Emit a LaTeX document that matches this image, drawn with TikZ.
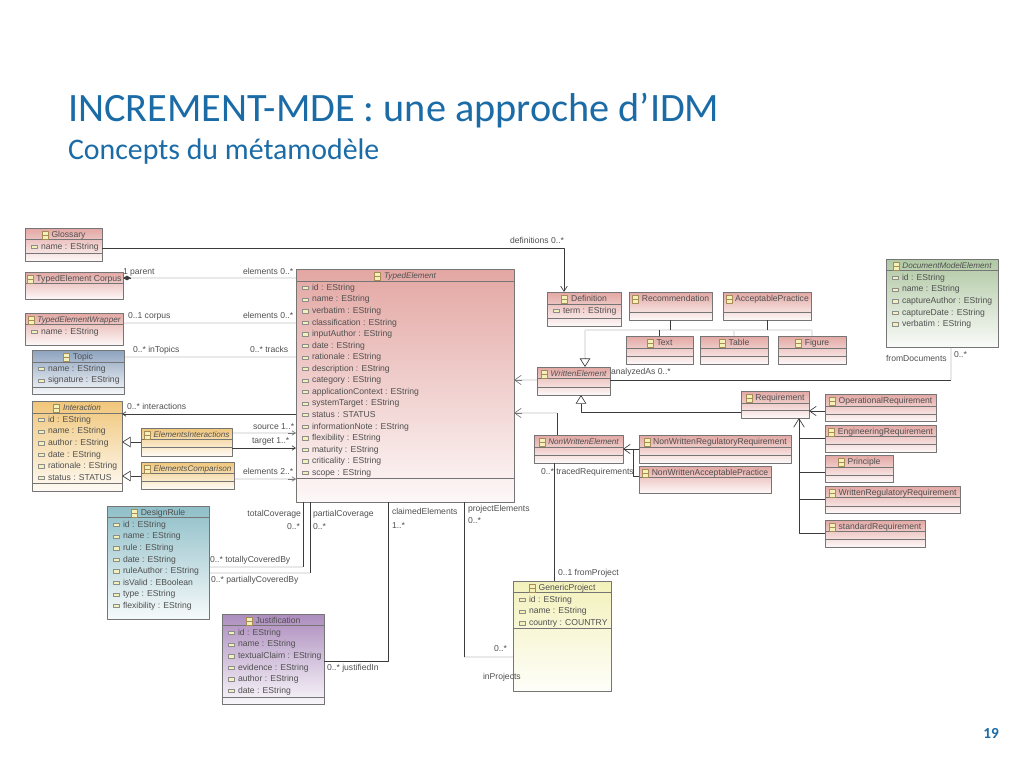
\documentclass[tikz,border=0pt]{standalone}
\usepackage{fontspec}
\setmainfont{Liberation Sans}
\newfontfamily\slidefont{Carlito}
\usetikzlibrary{arrows.meta,positioning,calc,fit,shadows}
\definecolor{ink}{HTML}{505050}
\definecolor{wire}{HTML}{3C3C3C}
\definecolor{pale}{HTML}{E9E9E9}
\definecolor{edge}{HTML}{757575}
\definecolor{slideblue}{HTML}{1B6BA6}
\definecolor{rosy}{HTML}{E3A7A3}
\definecolor{steel}{HTML}{8CA2BE}
\definecolor{amber}{HTML}{F0C679}
\definecolor{teal}{HTML}{8FBFC8}
\definecolor{plum}{HTML}{AD8DBE}
\definecolor{lemon}{HTML}{F3F1BA}
\definecolor{sage}{HTML}{B0C8A3}
\newcommand{\ittitle}{\fontsize{6.1}{8}\selectfont\itshape}

% box, dividers, title and its icon
\newcommand{\umlclass}[8]{%
  \node[clsbox, top color=#2, bottom color=#2!8, fit={(#3,#4) (#5,#6)}] (#1) {};
  \foreach \ydiv in {#7} {\draw[divline] (#1.west |- 0,\ydiv) -- (#1.east |- 0,\ydiv);}
  \node[clstitle] (#1-title) at ($(#1.north)+(5,6.8)$) {#8};
  \node[clsicon, left=2.5pt of #1-title] (#1-icon) {};
  \draw[iconline] (#1-icon.west) -- (#1-icon.east);
}
% attribute rows
\newcommand{\umlattrs}[2]{%
  \foreach \attrname [count=\n] in {#2} {
    \node[attrtext] (#1-a\n) at ($(#1.north west)+(16,7.45+11.55*\n)$) {\attrname};
    \node[attricon] (#1-i\n) at ($(#1.north west)+(9.5,7.45+11.55*\n)$) {};
  }
}

\begin{document}
\begin{tikzpicture}[
  x=0.75pt,
  y=-0.75pt,
  font=\fontsize{6.45}{8}\selectfont,
  line join=round,
  every node/.style={
    text=ink,
    inner sep=0pt,
    outer sep=0pt,
  },
  clsbox/.style={
    draw=edge,
    line width=0.5pt,
    drop shadow={shadow xshift=1pt,shadow yshift=-1pt,fill=black!20,opacity=1},
  },
  divline/.style={
    edge,
    line width=0.45pt,
  },
  clstitle/.style={
    text=ink,
    text height=5pt,
    text depth=1.4pt,
  },
  clsicon/.style={
    draw=amber!70!black,
    fill=lemon,
    line width=0.4pt,
    minimum width=4.5pt,
    minimum height=6pt,
  },
  iconline/.style={
    amber!70!black,
    line width=0.4pt,
  },
  attrtext/.style={
    anchor=west,
    text height=5pt,
    text depth=1.4pt,
  },
  attricon/.style={
    draw=black!45,
    fill=lemon,
    line width=0.3pt,
    minimum width=4.4pt,
    minimum height=2.4pt,
  },
  lbl/.style={
    anchor=west,
    text height=5pt,
    text depth=1.4pt,
  },
  wireline/.style={
    wire,
    line width=0.7pt,
  },
  paleline/.style={
    pale,
    line width=1pt,
  },
  opentip/.style={
    -{Straight Barb[length=5pt,width=7pt,line width=0.5pt]},
  },
  smalltip/.style={
    -{Straight Barb[length=2.6pt,width=3.4pt,line width=0.5pt]},
  },
  gentip/.style={
    -{Triangle[open,length=6.5pt,width=8pt,line width=0.5pt,fill=white]},
  },
]
\useasboundingbox (0,0) rectangle (1024,768);

% --- slide header ---
\node[anchor=west, text=slideblue, font=\slidefont\fontsize{30.2}{34}\selectfont] (slidetitle) at (68,111) {INCREMENT-MDE : une approche d’IDM};
\node[anchor=west, text=slideblue, font=\slidefont\fontsize{22.4}{26}\selectfont] (slidesub) at (68,152) {Concepts du métamodèle};
\node[anchor=east, text=slideblue, font=\slidefont\bfseries\fontsize{11.5}{14}\selectfont] (slidenum) at (999,733) {19};

% --- pale connectors, under the boxes ---
\draw[paleline] (123,278) -- (296,278);
\draw[paleline] (123,323) -- (296,323);
\draw[paleline] (124,357) -- (296,357);
\draw[paleline] (232,433) -- (296,433);
\draw[paleline] (234,479) -- (296,479);
\draw[paleline] (209,567) -- (303,567);
\draw[paleline] (209,573) -- (310,573);
\draw[paleline] (464,657) -- (513,657);
\draw[paleline] (514,380) -- (537,380);
\draw[paleline] (514,413) -- (557,413);
\draw[paleline] (951,347) -- (951,380);
\draw[paleline, line width=1.3pt] (585,330) -- (812,330);
\draw[paleline, line width=1.3pt] (585,330) -- (585,358);
\draw[paleline] (734,330) -- (734,336);
\draw[paleline] (812,330) -- (812,336);

% --- classes ---
\umlclass{glossary}{rosy}{25}{228}{102}{261}{239,253}{Glossary}
\umlattrs{glossary}{name : EString}
\umlclass{corpus}{rosy}{25}{272}{123}{299}{283}{TypedElement Corpus}
\umlclass{wrapper}{rosy}{25}{313}{123}{345}{324}{\ittitle TypedElementWrapper}
\umlattrs{wrapper}{name : EString}
\umlclass{topic}{steel}{32}{350}{124}{394}{362,387}{Topic}
\umlattrs{topic}{name : EString, signature : EString}
\umlclass{interaction}{amber}{32}{401}{122}{491}{413,483}{\ittitle Interaction}
\umlattrs{interaction}{id : EString, name : EString, author : EString, date : EString, rationale : EString, status : STATUS}
\umlclass{elemInter}{amber}{141}{428}{232}{456}{439,447}{\ittitle ElementsInteractions}
\umlclass{elemComp}{amber}{141}{462}{234}{489}{473,481}{\ittitle ElementsComparison}
\umlclass{designRule}{teal}{107}{506}{209}{619}{517}{DesignRule}
\umlattrs{designRule}{id : EString, name : EString, rule : EString, date : EString, ruleAuthor : EString, isValid : EBoolean, type : EString, flexibility : EString}
\umlclass{justification}{plum}{222}{614}{324}{704}{625,697}{Justification}
\umlattrs{justification}{id : EString, name : EString, textualClaim : EString, evidence : EString, author : EString, date : EString}
\umlclass{project}{lemon}{513}{581}{611}{691}{592,628}{GenericProject}
\umlattrs{project}{id : EString, name : EString, country : COUNTRY}
\umlclass{typedElem}{rosy}{296}{269}{514}{502}{281,478}{\ittitle TypedElement}
\umlattrs{typedElem}{id : EString, name : EString, verbatim : EString, classification : EString, inputAuthor : EString, date : EString, rationale : EString, description : EString, category : EString, applicationContext : EString, systemTarget : EString, status : STATUS, informationNote : EString, flexibility : EString, maturity : EString, criticality : EString, scope : EString}
\umlclass{definition}{rosy}{547}{292}{621}{326}{304,318}{Definition}
\umlattrs{definition}{term : EString}
\umlclass{recommend}{rosy}{629}{292}{712}{320}{312}{Recommendation}
\umlclass{acceptable}{rosy}{723}{292}{811}{320}{312}{AcceptablePractice}
\umlclass{textEl}{rosy}{626}{336}{693}{364}{348,356}{Text}
\umlclass{tableEl}{rosy}{700}{336}{768}{364}{348,356}{Table}
\umlclass{figureEl}{rosy}{778}{336}{846}{364}{348,356}{Figure}
\umlclass{written}{rosy}{537}{367}{610}{395}{378,387}{\ittitle WrittenElement}
\umlclass{requirement}{rosy}{741}{391}{809}{418}{403,410}{Requirement}
\umlclass{operational}{rosy}{825}{394}{936}{421}{406,414}{OperationalRequirement}
\umlclass{engineering}{rosy}{825}{425}{936}{452}{436,444}{EngineeringRequirement}
\umlclass{principle}{rosy}{825}{455}{893}{482}{467,475}{Principle}
\umlclass{writtenReg}{rosy}{825}{486}{960}{513}{497,506}{WrittenRegulatoryRequirement}
\umlclass{standard}{rosy}{825}{520}{925}{547}{531,539}{standardRequirement}
\umlclass{nonWritten}{rosy}{534}{435}{623}{463}{447,455}{\ittitle NonWrittenElement}
\umlclass{nonWrittenReg}{rosy}{639}{435}{791}{463}{447,455}{NonWrittenRegulatoryRequirement}
\umlclass{nonWrittenAcc}{rosy}{639}{466}{771}{493}{477}{NonWrittenAcceptablePractice}
\umlclass{docElem}{sage}{886}{259}{998}{347}{270}{\ittitle DocumentModelElement}
\umlattrs{docElem}{id : EString, name : EString, captureAuthor : EString, captureDate : EString, verbatim : EString}

% --- arrows ---
\draw[wireline, -{Straight Barb[length=4pt,width=5pt,line width=0.5pt]}] (glossary.east |- 0,248) -| (definition.north -| 564,0);
\draw[wireline, -{Diamond[length=6pt,width=3.5pt]}] (131,278) -- (corpus.east |- 0,278);
\draw[wireline, smalltip] (typedElem.west |- 0,414) -- (interaction.east |- 0,414);
\draw[wireline, smalltip] (elemInter.east |- 0,448) -- (typedElem.west |- 0,448);
\draw[wireline, wire!70, smalltip] (288,433) -- (typedElem.west |- 0,433);
\draw[wireline, wire!70, smalltip] (288,479) -- (typedElem.west |- 0,479);
\draw[wireline, gentip] (elemInter.west |- 0,442) -- (interaction.east |- 0,442);
\draw[wireline, gentip] (elemComp.west |- 0,476) -- (interaction.east |- 0,476);
\draw[wireline] (typedElem.south -| 303,0) -- (303,567);
\draw[wireline] (typedElem.south -| 310,0) -- (310,573);
\draw[wireline] (typedElem.south -| 388,0) |- (justification.east |- 0,661);
\draw[wireline] (typedElem.south -| 464,0) -- (464,657);
\draw[wireline] (nonWritten.south -| 554,0) -- (project.north -| 554,0);
\draw[wireline] (nonWritten.north -| 557,0) -- (557,413);
\draw[wireline] (written.east |- 0,380) -- (951,380);
\draw[wireline, gentip] (requirement.west |- 0,412) -| (written.south -| 581,0);
\draw[wireline, opentip] (operational.west |- 0,411) -- (requirement.east |- 0,411);
\draw[wireline, -{Straight Barb[length=6.5pt,width=8pt,line width=0.5pt]}] (standard.west |- 0,533) -| (requirement.south -| 799,0);
\draw[wireline] (engineering.west |- 0,438) -- (799,438);
\draw[wireline] (principle.west |- 0,472) -- (799,472);
\draw[wireline] (writtenReg.west |- 0,499) -- (799,499);
\draw[wireline, opentip] (nonWrittenReg.west |- 0,449) -- (nonWritten.east |- 0,449);
\draw[wireline] (nonWrittenAcc.west |- 0,476) -| (633,449);
\draw[wireline] (recommend.south -| 670,0) -- (670,330);
\draw[wireline] (acceptable.south -| 767,0) -- (767,330);
\draw[wireline] (659,330) -- (textEl.north -| 659,0);
\draw[wireline, gentip] (585,358) -- (written.north -| 585,0);
\draw[wire!70, line width=0.5pt, opentip] (522,380) -- (typedElem.east |- 0,380);
\draw[wire!70, line width=0.5pt, opentip] (522,413) -- (typedElem.east |- 0,413);

% --- connector labels ---
\node[lbl] (lDefinitions) at (510,241) {definitions 0..*};
\node[lbl] (lParent) at (123,272) {1 parent};
\node[lbl] (lElemA) at (243,272) {elements 0..*};
\node[lbl] (lCorpus) at (128,316) {0..1 corpus};
\node[lbl] (lElemB) at (243,316) {elements 0..*};
\node[lbl] (lInTopics) at (133,350) {0..* inTopics};
\node[lbl] (lTracks) at (250,350) {0..* tracks};
\node[lbl] (lInteractions) at (127,407) {0..* interactions};
\node[lbl] (lSource) at (253,427) {source 1..*};
\node[lbl] (lTarget) at (252,441) {target 1..*};
\node[lbl] (lElemC) at (243,472) {elements 2..*};
\node[lbl, anchor=east] (lTotal) at (301,514) {totalCoverage};
\node[lbl] (lTotalN) at (287,527) {0..*};
\node[lbl] (lPartial) at (313,514) {partialCoverage};
\node[lbl] (lPartialN) at (313,527) {0..*};
\node[lbl] (lTotalBy) at (210,560) {0..* totallyCoveredBy};
\node[lbl] (lPartialBy) at (211,580) {0..* partiallyCoveredBy};
\node[lbl] (lClaimed) at (392,512) {claimedElements};
\node[lbl] (lClaimedN) at (392,526) {1..*};
\node[lbl] (lJustified) at (327,668) {0..* justifiedIn};
\node[lbl] (lProjElem) at (468,509) {projectElements};
\node[lbl] (lProjElemN) at (468,521) {0..*};
\node[lbl] (lProjN) at (494,649) {0..*};
\node[lbl] (lInProjects) at (483,677) {inProjects};
\node[lbl] (lTraced) at (541,472) {0..* tracedRequirements};
\node[lbl] (lFromProject) at (558,573) {0..1 fromProject};
\node[lbl] (lAnalyzed) at (611,372) {analyzedAs 0..*};
\node[lbl] (lFromDocs) at (886,359) {fromDocuments};
\node[lbl] (lDocsN) at (954,355) {0..*};

\end{tikzpicture}
\end{document}
